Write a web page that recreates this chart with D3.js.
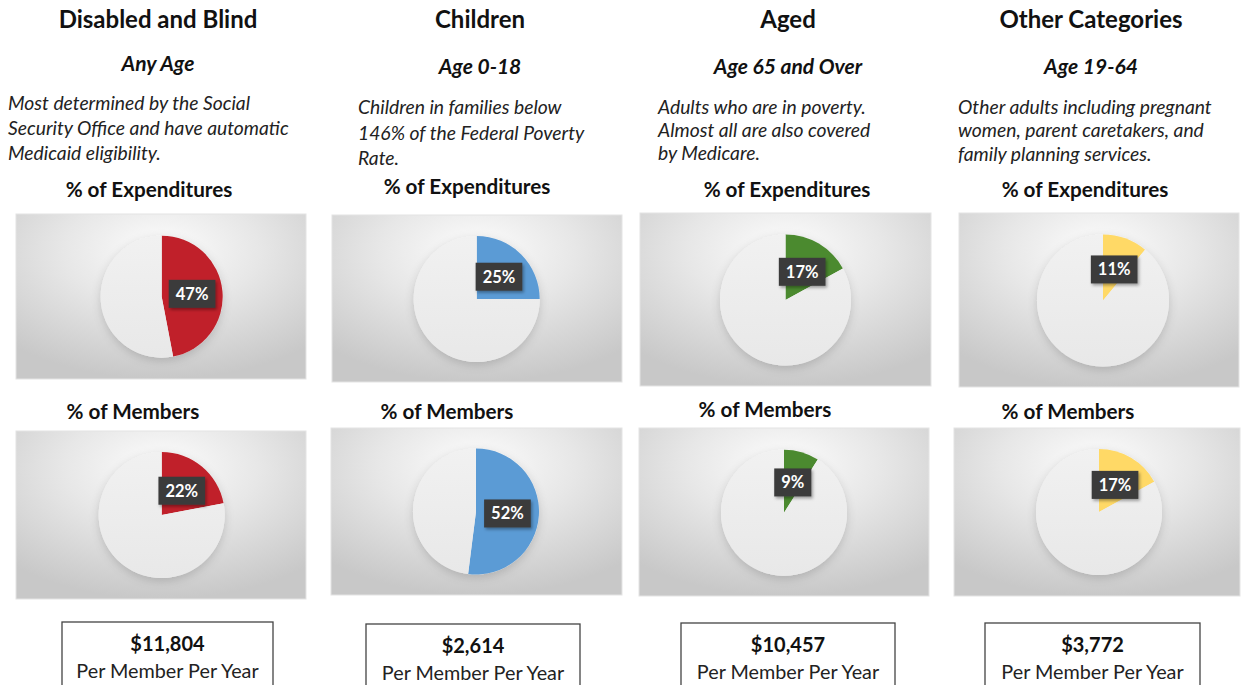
<!DOCTYPE html>
<html>
<head>
<meta charset="utf-8">
<script src="https://cdn.jsdelivr.net/npm/d3@7"></script>
<style>
  body { margin: 0; background: #ffffff; }
  svg { display: block; font-family: Lato, "Open Sans", "Noto Sans", sans-serif; }
</style>
</head>
<body>
<svg id="chart" width="1243" height="685"></svg>
<script>
// ---------------- DATA ----------------
const categories = ["Disabled and Blind", "Children", "Aged", "Other Categories"];
const ageGroups = ["Any Age", "Age 0-18", "Age 65 and Over", "Age 19-64"];
const descriptions = [
  ["Most determined by the Social", "Security Office and have automatic", "Medicaid eligibility."],
  ["Children in families below", "146% of the Federal Poverty", "Rate."],
  ["Adults who are in poverty.", "Almost all are also covered", "by Medicare."],
  ["Other adults including pregnant", "women, parent caretakers, and", "family planning services."]
];
const expenditureShare = [47, 25, 17, 11];
const memberShare = [22, 52, 9, 17];
const costPerMember = [11804, 2614, 10457, 3772];
const chartTitles = ["% of Expenditures", "% of Members"];
const costLabel = "Per Member Per Year";
const sliceColors = ["#c0202a", "#5b9bd5", "#4b8a2f", "#ffd966"];

// ---------------- LAYOUT ----------------
const colCenter = [158, 480, 788, 1091];
const titleY = [28, 28, 28, 28];
const ageY = [71, 74, 74, 74];
const descLeft = [8, 358, 658, 958];
const descY = [[110, 135, 160], [114, 140, 165], [114, 137, 160], [114, 137, 161]];
const subCenter = [[149, 467, 787, 1085], [133, 447, 765, 1068]];
const subY = [[197, 194, 197, 197], [419, 419, 417, 419]];
const panels = [
  [{x:16,y:214,w:290,h:165},{x:332,y:215,w:290,h:167},{x:640,y:213,w:291,h:173},{x:959,y:213,w:280,h:174}],
  [{x:16,y:431,w:290,h:168},{x:331,y:428,w:291,h:167},{x:639,y:428,w:290,h:168},{x:954,y:428,w:286,h:168}]
];
const pieCenters = [
  [[161.7,296.7],[476.7,299],[785.5,300],[1103,300.5]],
  [[161.7,515],[476,511.5],[784,512.7],[1099,512]]
];
const pieRadius = [[61,63,65.5,66],[63,63,63,63]];
const boxes = [{x:62,y:622,w:211},{x:366,y:624,w:214},{x:681,y:623,w:214},{x:985,y:623,w:215}];

const svg = d3.select("#chart");
const defs = svg.append("defs");

const bg = defs.append("radialGradient").attr("id", "panelBg")
  .attr("cx", "50%").attr("cy", "25%").attr("r", "75%")
  .attr("fx", "50%").attr("fy", "20%");
bg.append("stop").attr("offset", "0%").attr("stop-color", "#fcfcfc");
bg.append("stop").attr("offset", "45%").attr("stop-color", "#e7e7e7");
bg.append("stop").attr("offset", "100%").attr("stop-color", "#c8c8c8");

const pieGrad = defs.append("linearGradient").attr("id", "pieBase")
  .attr("x1", "0").attr("y1", "0").attr("x2", "0").attr("y2", "1");
pieGrad.append("stop").attr("offset", "0%").attr("stop-color", "#f1f1f1");
pieGrad.append("stop").attr("offset", "100%").attr("stop-color", "#e8e8e8");

const shadow = defs.append("filter").attr("id", "pieShadow")
  .attr("x", "-30%").attr("y", "-30%").attr("width", "160%").attr("height", "160%");
shadow.append("feDropShadow").attr("dx", 0).attr("dy", 3).attr("stdDeviation", 5)
  .attr("flood-color", "#000").attr("flood-opacity", 0.16);

const lblShadow = defs.append("filter").attr("id", "lblShadow")
  .attr("x", "-30%").attr("y", "-30%").attr("width", "160%").attr("height", "160%");
lblShadow.append("feDropShadow").attr("dx", 1.5).attr("dy", 2).attr("stdDeviation", 1.5)
  .attr("flood-color", "#000").attr("flood-opacity", 0.35);

const pie = d3.pie().sort(null).value(d => d);

categories.forEach((cat, i) => {
  // Titles
  svg.append("text").attr("x", colCenter[i]).attr("y", titleY[i])
    .attr("text-anchor", "middle").attr("font-size", 24).attr("font-weight", 700)
    .attr("fill", "#111").text(cat);
  svg.append("text").attr("x", colCenter[i]).attr("y", ageY[i])
    .attr("text-anchor", "middle").attr("font-size", 21).attr("font-weight", 700)
    .attr("font-style", "italic").attr("fill", "#111").text(ageGroups[i]);
  descriptions[i].forEach((line, k) => {
    svg.append("text").attr("x", descLeft[i]).attr("y", descY[i][k])
      .attr("font-size", 19.3).attr("font-style", "italic").attr("fill", "#222").text(line);
  });

  [expenditureShare, memberShare].forEach((series, r) => {
    svg.append("text").attr("x", subCenter[r][i]).attr("y", subY[r][i])
      .attr("text-anchor", "middle").attr("font-size", 20.7).attr("font-weight", 700)
      .attr("fill", "#111").text(chartTitles[r]);

    const p = panels[r][i];
    svg.append("rect").attr("x", p.x).attr("y", p.y).attr("width", p.w).attr("height", p.h)
      .attr("fill", "url(#panelBg)").attr("stroke", "#e4e4e4").attr("stroke-width", 1);

    const [cx, cy] = pieCenters[r][i];
    const rad = pieRadius[r][i];
    const arc = d3.arc().innerRadius(0).outerRadius(rad);
    const g = svg.append("g").attr("transform", `translate(${cx},${cy})`);
    const arcs = pie([series[i], 100 - series[i]]);

    g.append("circle").attr("r", rad).attr("fill", "url(#pieBase)").attr("filter", "url(#pieShadow)");
    g.selectAll("path.slice").data(arcs).join("path").attr("class", "slice")
      .attr("d", arc)
      .attr("fill", (d, j) => j === 0 ? sliceColors[i] : "url(#pieBase)");

    const [lx, ly] = arc.centroid(arcs[0]);
    const label = `${series[i]}%`;
    const lg = g.append("g").attr("transform", `translate(${lx},${ly})`);
    const txt = lg.append("text").attr("text-anchor", "middle").attr("dy", "0.36em")
      .attr("font-size", 16.5).attr("font-weight", 700).attr("fill", "#ffffff").text(label);
    const tw = txt.node().getComputedTextLength();
    lg.insert("rect", "text").attr("x", -tw / 2 - 7).attr("y", -14)
      .attr("width", tw + 14).attr("height", 28).attr("fill", "#3a3a3a")
      .attr("filter", "url(#lblShadow)");
  });

  const b = boxes[i];
  svg.append("rect").attr("x", b.x).attr("y", b.y).attr("width", b.w).attr("height", 80)
    .attr("fill", "#fff").attr("stroke", "#444").attr("stroke-width", 1.3);
  svg.append("text").attr("x", b.x + b.w / 2).attr("y", b.y + 29)
    .attr("text-anchor", "middle").attr("font-size", 20).attr("font-weight", 700)
    .attr("fill", "#111").text(d3.format("$,")(costPerMember[i]));
  svg.append("text").attr("x", b.x + b.w / 2).attr("y", b.y + 56)
    .attr("text-anchor", "middle").attr("font-size", 19.8)
    .attr("fill", "#222").text(costLabel);
});
</script>
</body>
</html>
